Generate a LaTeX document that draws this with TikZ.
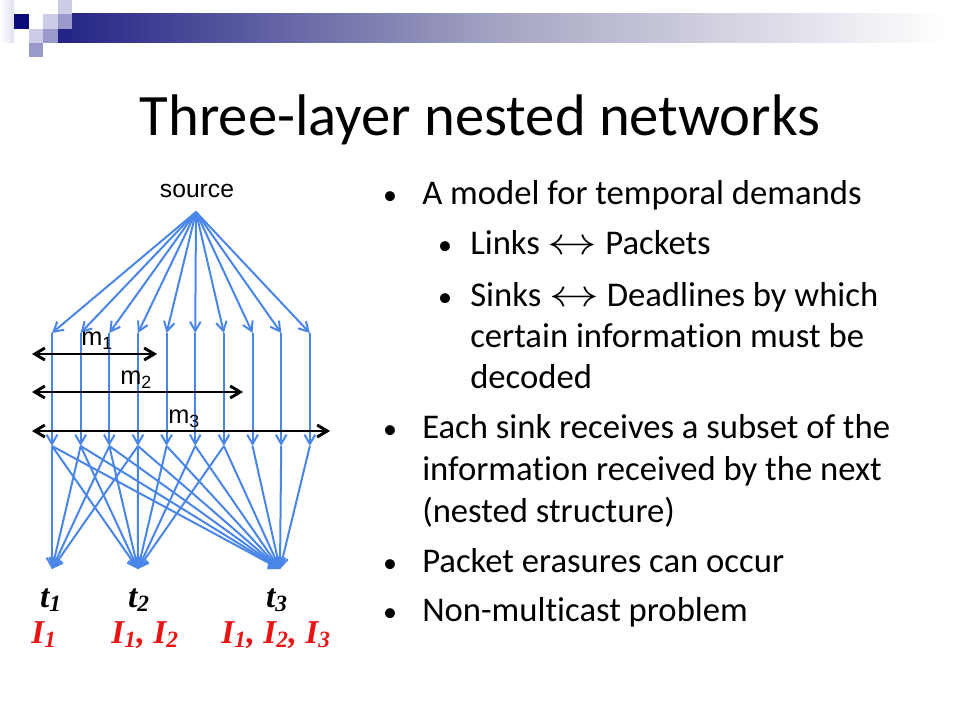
\documentclass[tikz,border=0pt]{standalone}
\usepackage{fontspec}
\setmainfont{Carlito}[Ligatures=NoCommon]
\newfontfamily\arialfont{Liberation Sans}
\newfontfamily\timesfont{Liberation Serif}
\usepackage{tikz}
\usetikzlibrary{arrows.meta, calc, positioning}
\definecolor{linkblue}{RGB}{74,134,232}
\definecolor{navy}{RGB}{10,10,120}
\definecolor{lav1}{RGB}{204,204,230}
\definecolor{lav2}{RGB}{153,153,204}
\definecolor{sinkred}{RGB}{235,20,20}
\newcommand{\bothway}{\scalebox{1.5}[1.15]{$\leftrightarrow$}}

\begin{document}
\begin{tikzpicture}[x=0.75pt,y=-0.75pt,every node/.style={inner sep=0pt},
    link/.style={draw=linkblue,line width=1.5pt,-{Straight Barb[length=7pt,width=8pt]}},
    msg/.style={draw=black,line width=2.2pt,{Straight Barb[length=7.5pt,width=9pt]}-{Straight Barb[length=7.5pt,width=9pt]}},
    body/.style={anchor=base west,font=\fontsize{26}{30}\selectfont},
    bul/.style={anchor=base,font=\fontsize{21}{24}\selectfont},
    mlbl/.style={anchor=base west,font=\arialfont\fontsize{19}{20}\selectfont},
    tlbl/.style={anchor=base,font=\timesfont\fontsize{25}{28}\selectfont\bfseries\itshape}]
        \useasboundingbox (0,0) rectangle (960,720);
        \begin{scope}
            \shade[left color=white,right color=lav1!60] (0,0) rectangle (14,43);
            \shade[left color=navy!90,right color=white,middle color={rgb,255:red,165;green,165;blue,195}] (58,14) rectangle (945,43);
            \fill[navy] (14,14) rectangle (29,29);
            \fill[lav1] (58,0) rectangle (72,14);
            \fill[lav1] (43,14) rectangle (58,29);
            \fill[lav2] (58,14) rectangle (72,29);
            \fill[lav1] (29,29) rectangle (43,43);
            \fill[lav2] (43,29) rectangle (58,43);
            \fill[lav2] (29,43) rectangle (43,57);
        \end{scope}
        \node[anchor=base,font=\fontsize{44}{50}\selectfont] (title) at (480,136) {Three-layer nested networks};

        \node[anchor=base,font=\arialfont\fontsize{18.5}{20}\selectfont] (src) at (197,198) {source};
        \coordinate (apex) at (196,212);
        \foreach \i in {0,...,9} {
            \coordinate (u\i) at ({52+28.65*\i},333);
            \coordinate (v\i) at ({52+28.65*\i},446);
            \draw[link] (apex) -- (u\i);
            \draw[link] (u\i) -- (v\i);
        }
        \coordinate (t1) at (52,569);
        \coordinate (t2) at (138,569);
        \coordinate (t3) at (280,569);
        \foreach \i in {0,...,3} \draw[link] (v\i) -- (t1);
        \foreach \i in {0,...,6} \draw[link] (v\i) -- (t2);
        \foreach \i in {0,...,9} \draw[link] (v\i) -- (t3);

        \coordinate (m1a) at (32,354);
        \coordinate (m1b) at (157,354);
        \coordinate (m2a) at (32,392);
        \coordinate (m2b) at (243,392);
        \coordinate (m3a) at (32,431);
        \coordinate (m3b) at (330,431);
        \draw[msg] (m1a) -- (m1b);
        \draw[msg] (m2a) -- (m2b);
        \draw[msg] (m3a) -- (m3b);
        \node[mlbl] (m1) at (81,345) {m\textsubscript{1}};
        \node[mlbl] (m2) at (120,384) {m\textsubscript{2}};
        \node[mlbl] (m3) at (168,423) {m\textsubscript{3}};

        \node[tlbl] (lt1) at (51,607) {t\textsubscript{1}};
        \node[tlbl] (lt2) at (139,607) {t\textsubscript{2}};
        \node[tlbl] (lt3) at (277,607) {t\textsubscript{3}};
        \node[tlbl,text=sinkred] (li1) at (44,643) {I\textsubscript{1}};
        \node[tlbl,text=sinkred] (li2) at (145,643) {I\textsubscript{1}, I\textsubscript{2}};
        \node[tlbl,text=sinkred] (li3) at (276,643) {I\textsubscript{1}, I\textsubscript{2}, I\textsubscript{3}};

        \node[bul] (b1) at (390,205) {\textbullet};
        \node[body] (l1) at (422,205) {A model for temporal demands};
        \node[bul] (b2) at (445,255) {\textbullet};
        \node[body] (l2) at (470,255) {Links \bothway{} Packets};
        \node[bul] (b3) at (445,306) {\textbullet};
        \node[body] (l3) at (470,306) {Sinks \bothway{} Deadlines by which};
        \node[body] (l4) at (470,347) {certain information must be};
        \node[body] (l5) at (470,388) {decoded};
        \node[bul] (b4) at (390,438) {\textbullet};
        \node[body] (l6) at (422,438) {Each sink receives a subset of the};
        \node[body] (l7) at (422,480) {information received by the next};
        \node[body] (l8) at (422,522) {(nested structure)};
        \node[bul] (b5) at (390,572) {\textbullet};
        \node[body] (l9) at (422,572) {Packet erasures can occur};
        \node[bul] (b6) at (390,621) {\textbullet};
        \node[body] (l10) at (422,621) {Non-multicast problem};
    \end{tikzpicture}
\end{document}
